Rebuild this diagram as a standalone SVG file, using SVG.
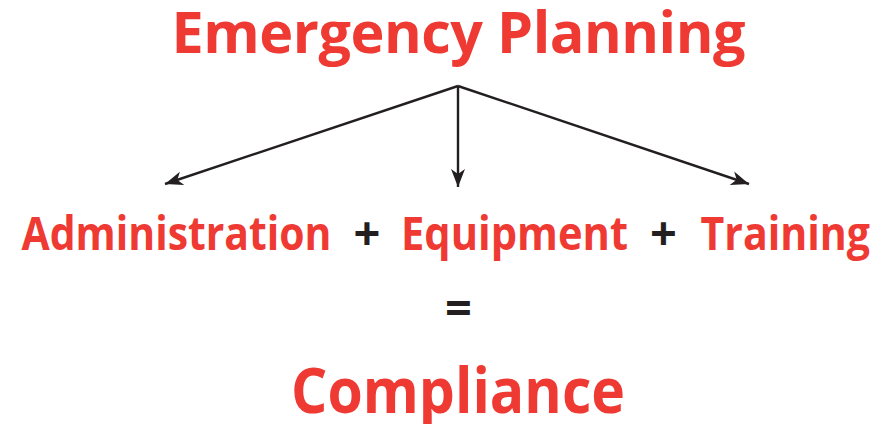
<svg xmlns="http://www.w3.org/2000/svg" width="896" height="424" viewBox="0 0 896 424">
  <style>
    .t { font-family: "Open Sans", "Noto Sans", "Liberation Sans", sans-serif; font-weight: 700; }
    .red { fill: #EF3A34; }
    .blk { fill: #231F20; }
    .ln { stroke: #231F20; stroke-width: 2.4; fill: none; }
  </style>
  <defs>
    <marker id="ah" markerUnits="userSpaceOnUse" viewBox="-19 -8 20 16" refX="0" refY="0" markerWidth="20" markerHeight="16" orient="auto">
      <path d="M0,0 L-18,-7 L-13,0 L-18,7 Z" fill="#231F20"/>
    </marker>
  </defs>
  <rect width="896" height="424" fill="#FFFFFF"/>
  <g id="title">
    <text class="t red" x="171.5" y="52.7" font-size="57.5" textLength="574">Emergency Planning</text>
  </g>
  <g id="connectors">
    <line class="ln" x1="458" y1="86" x2="165" y2="184" marker-end="url(#ah)"/>
    <line class="ln" x1="458" y1="86" x2="458" y2="187" marker-end="url(#ah)"/>
    <line class="ln" x1="458" y1="86" x2="749" y2="184" marker-end="url(#ah)"/>
  </g>
  <g id="administration">
    <text class="t red" x="21.5" y="250" font-size="47" textLength="310" lengthAdjust="spacingAndGlyphs">Administration</text>
  </g>
  <g id="plus1">
    <text class="t blk" x="367" y="250" font-size="47" text-anchor="middle">+</text>
  </g>
  <g id="equipment">
    <text class="t red" x="401" y="250" font-size="47" textLength="227" lengthAdjust="spacingAndGlyphs">Equipment</text>
  </g>
  <g id="plus2">
    <text class="t blk" x="663.5" y="250" font-size="47" text-anchor="middle">+</text>
  </g>
  <g id="training">
    <text class="t red" x="700.5" y="250" font-size="47" textLength="169.5" lengthAdjust="spacingAndGlyphs">Training</text>
  </g>
  <g id="equals">
    <text class="t blk" x="458.5" y="325" font-size="47" text-anchor="middle">=</text>
  </g>
  <g id="compliance">
    <text class="t red" x="291" y="413" font-size="63" textLength="334" lengthAdjust="spacingAndGlyphs">Compliance</text>
  </g>
</svg>
